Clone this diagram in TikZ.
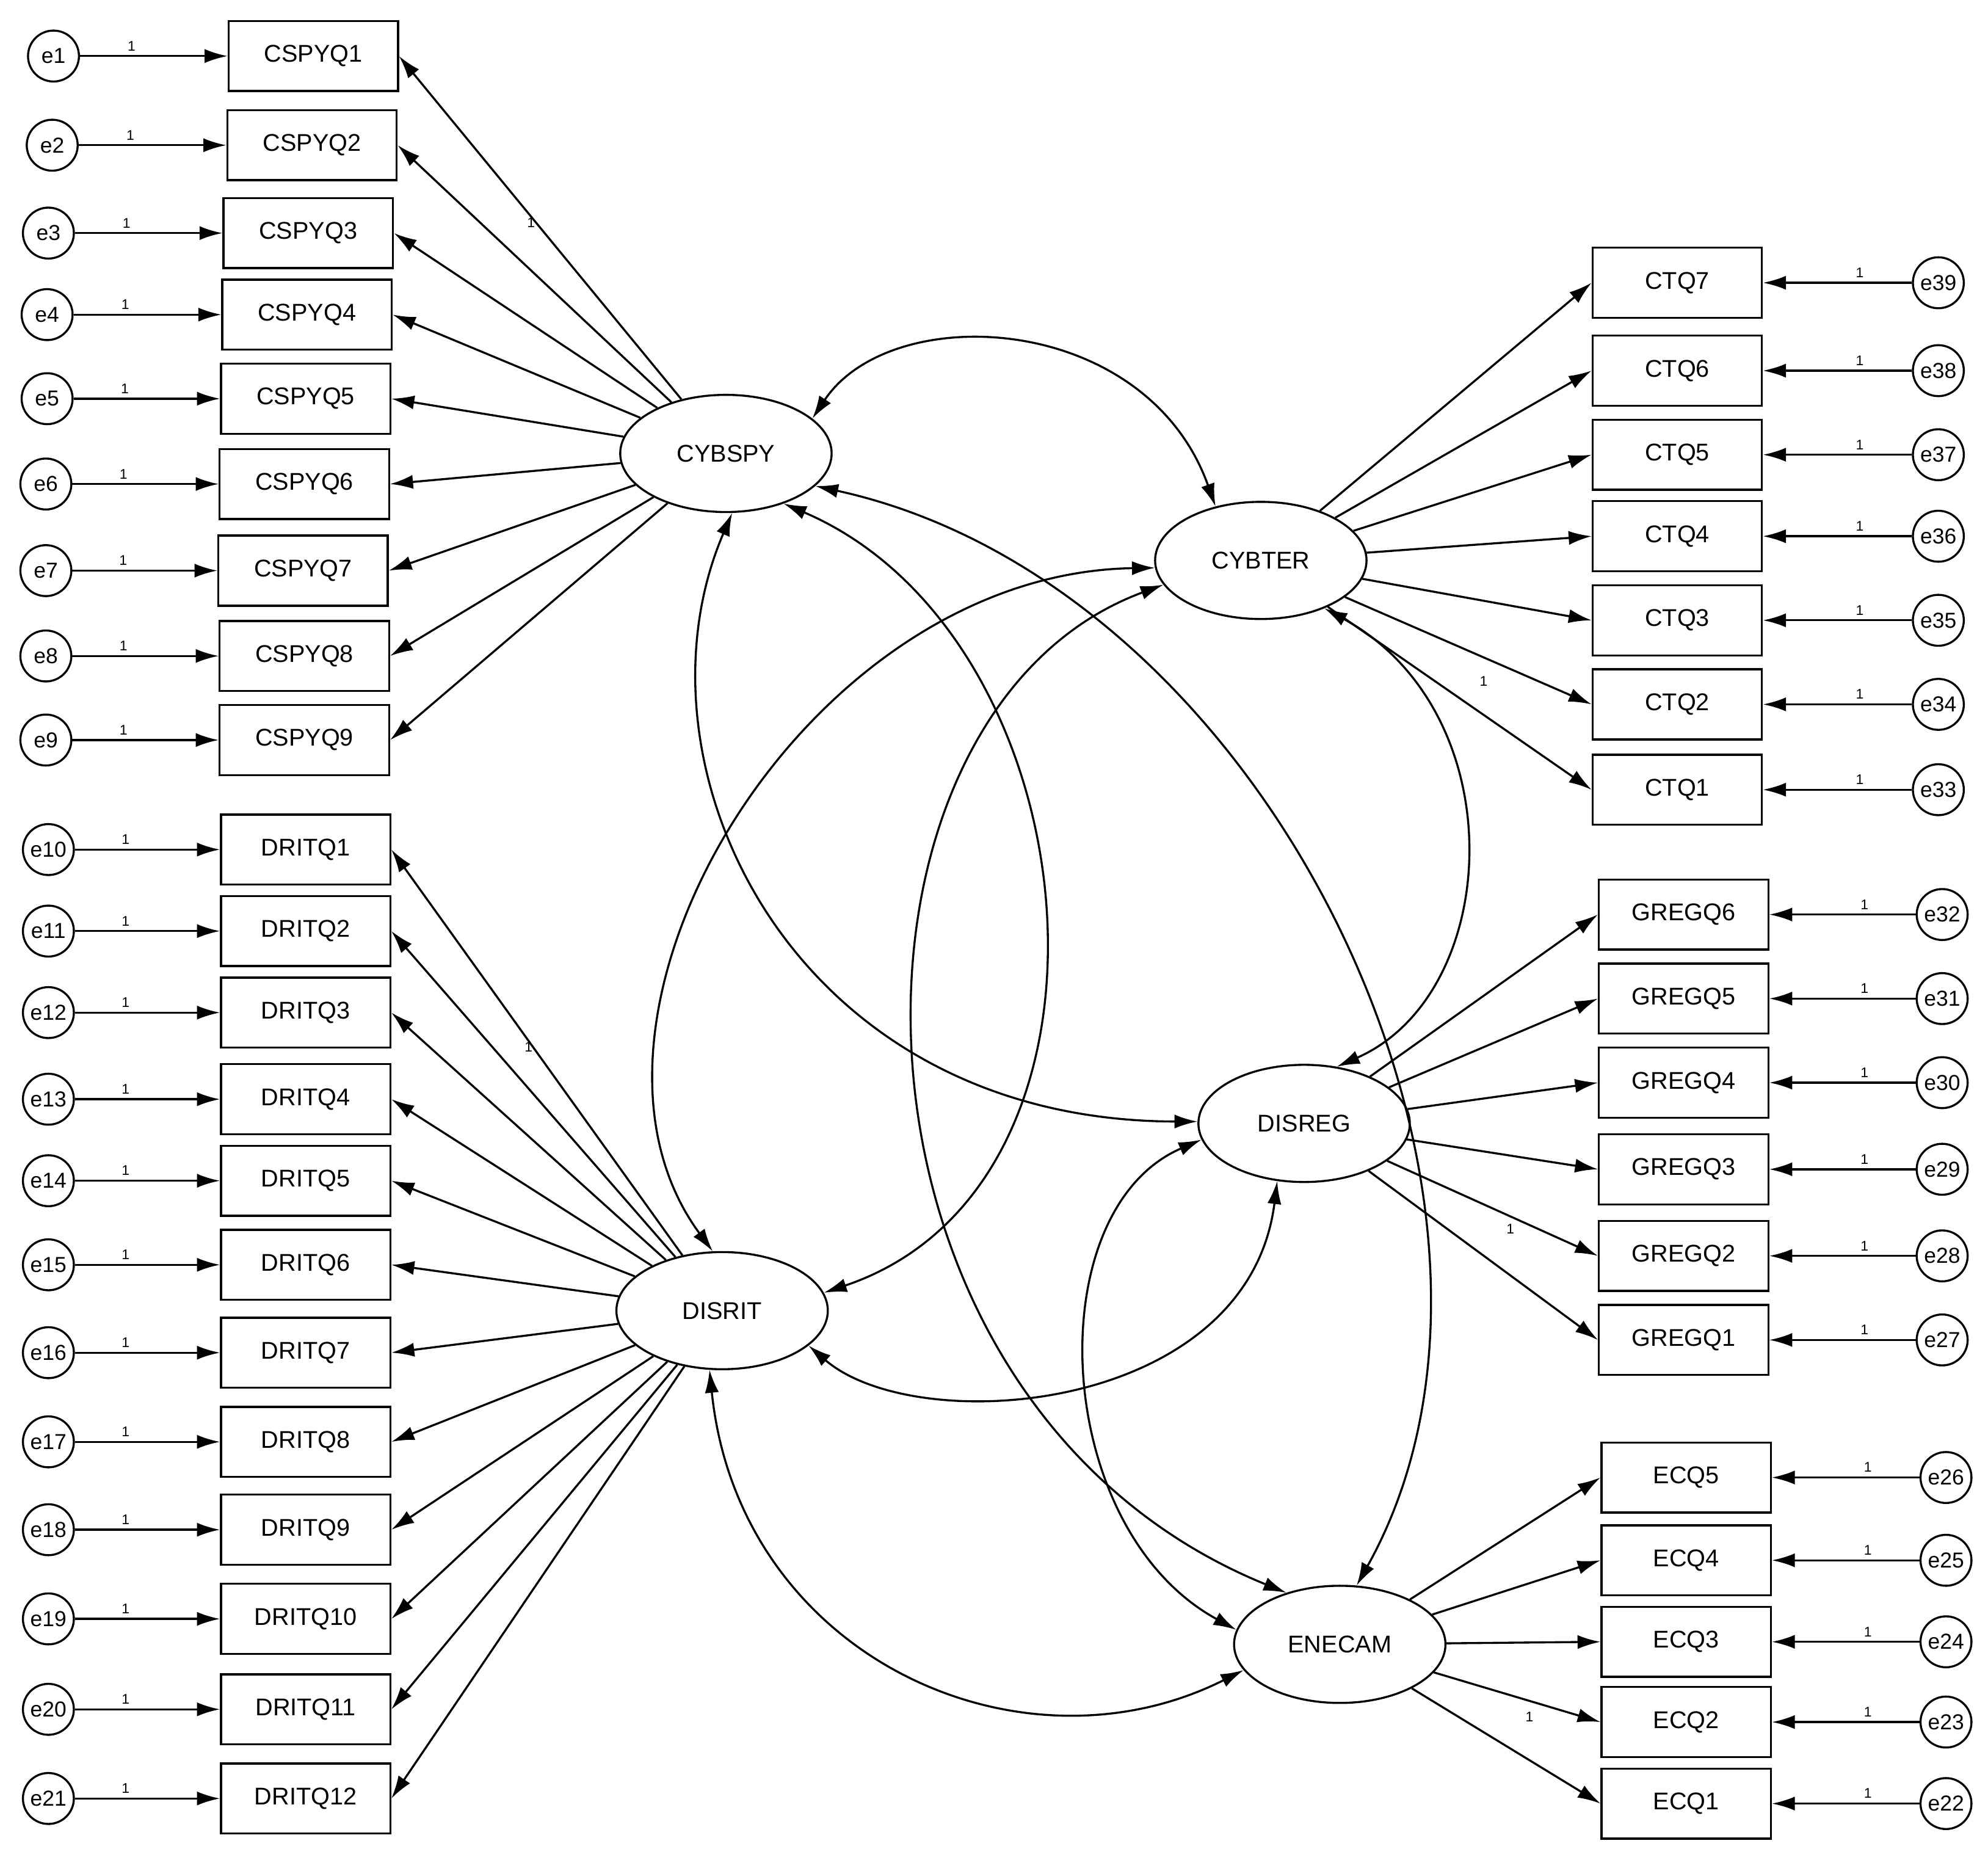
\documentclass[tikz,border=0pt]{standalone}
\usepackage{fontspec}
\setmainfont{Liberation Sans}
\usetikzlibrary{arrows.meta,shapes.geometric}
\begin{document}
\begin{tikzpicture}[x=1pt,y=-1pt,line width=1.6pt,
 box/.style={draw,minimum width=133pt,minimum height=55pt,font=\fontsize{19}{19}\selectfont,inner sep=0pt},
 err/.style={draw,circle,minimum size=40pt,inner sep=0pt,font=\fontsize{17}{17}\selectfont},
 fac/.style={draw,ellipse,minimum width=166pt,minimum height=92pt,font=\fontsize{19}{19}\selectfont,inner sep=0pt},
 arr/.style={-{Latex[length=18pt,width=11pt]}},
 cov/.style={{Latex[length=18pt,width=11pt]}-{Latex[length=18pt,width=11pt]}},
 one/.style={font=\fontsize{11}{11}\selectfont}]
\useasboundingbox (0,0) rectangle (1561,1460);
\fill[white] (0,0) rectangle (1561,1460);
% factors
\node[fac] (CYBSPY) at (570,356) {CYBSPY};
\node[fac] (CYBTER) at (990,440) {CYBTER};
\node[fac] (DISREG) at (1024,882) {DISREG};
\node[fac] (DISRIT) at (567,1029) {DISRIT};
\node[fac] (ENECAM) at (1052,1291) {ENECAM};
% CSPYQ
\foreach \i/\x/\y/\ex in {1/246/44/42,2/245/114/41,3/242/183/38,4/241/247/37,5/240/313/37,6/239/380/36,7/238/448/36,8/239/515/36,9/239/581/36}{
 \node[box] (CSPYQ\i) at (\x,\y) {CSPYQ\i};
 \node[err] (e\i) at (\ex,\y) {e\i};
 \draw[arr] (e\i) -- node[one,pos=0.35,above]{1} (CSPYQ\i.west);
 \draw[arr] (CYBSPY) -- (CSPYQ\i.east);
}
\node[one] (l1) at (417,175) {1};
% DRITQ
\foreach \i/\y [evaluate=\i as \k using int(\i+9)] in {1/667,2/731,3/795,4/863,5/927,6/993,7/1062,8/1132,9/1201,10/1271,11/1342,12/1412}{
 \node[box] (DRITQ\i) at (240,\y) {DRITQ\i};
 \node[err] (e\k) at (38,\y) {e\k};
 \draw[arr] (e\k) -- node[one,pos=0.35,above]{1} (DRITQ\i.west);
 \draw[arr] (DISRIT) -- (DRITQ\i.east);
}
\node[one] (l2) at (415,822) {1};
% CTQ
\foreach \i/\y [evaluate=\i as \k using int(\i+32)] in {7/222,6/291,5/357,4/421,3/487,2/553,1/620}{
 \node[box] (CTQ\i) at (1317,\y) {CTQ\i};
 \node[err] (e\k) at (1522,\y) {e\k};
 \draw[arr] (e\k) -- node[one,pos=0.35,above]{1} (CTQ\i.east);
 \draw[arr] (CYBTER) -- (CTQ\i.west);
}
\node[one] (l3) at (1165,535) {1};
% GREGQ
\foreach \i/\y [evaluate=\i as \k using int(\i+26)] in {6/718,5/784,4/850,3/918,2/986,1/1052}{
 \node[box] (GREGQ\i) at (1322,\y) {GREGQ\i};
 \node[err] (e\k) at (1525,\y) {e\k};
 \draw[arr] (e\k) -- node[one,pos=0.35,above]{1} (GREGQ\i.east);
 \draw[arr] (DISREG) -- (GREGQ\i.west);
}
\node[one] (l4) at (1186,965) {1};
% ECQ
\foreach \i/\y [evaluate=\i as \k using int(\i+21)] in {5/1160,4/1225,3/1289,2/1352,1/1416}{
 \node[box] (ECQ\i) at (1324,\y) {ECQ\i};
 \node[err] (e\k) at (1528,\y) {e\k};
 \draw[arr] (e\k) -- node[one,pos=0.35,above]{1} (ECQ\i.east);
 \draw[arr] (ENECAM) -- (ECQ\i.west);
}
\node[one] (l5) at (1201,1348) {1};
% covariances
\draw[cov] (CYBSPY.22) .. controls (700,235) and (900,245) .. (CYBTER.130);
\draw[cov] (CYBSPY.-84) .. controls (490,600) and (620,880) .. (DISREG.179);
\draw[cov] (CYBTER.184) .. controls (630,450) and (425,800) .. (DISRIT.99);
\draw[cov] (CYBSPY.-20) .. controls (1000,460) and (1230,950) .. (ENECAM.74);
\draw[cov] (CYBSPY.-41) .. controls (860,500) and (900,930) .. (DISRIT.10);
\draw[cov] (CYBTER.194) .. controls (640,560) and (640,1100) .. (ENECAM.136);
\draw[cov] (CYBTER.-37) .. controls (1190,560) and (1180,780) .. (DISREG.60);
\draw[cov] (DISREG.-115) .. controls (980,1110) and (720,1130) .. (DISRIT.-22);
\draw[cov] (DISREG.189) .. controls (815,950) and (825,1200) .. (ENECAM.172);
\draw[cov] (DISRIT.-102) .. controls (580,1300) and (800,1400) .. (ENECAM.195);
\end{tikzpicture}
\end{document}
